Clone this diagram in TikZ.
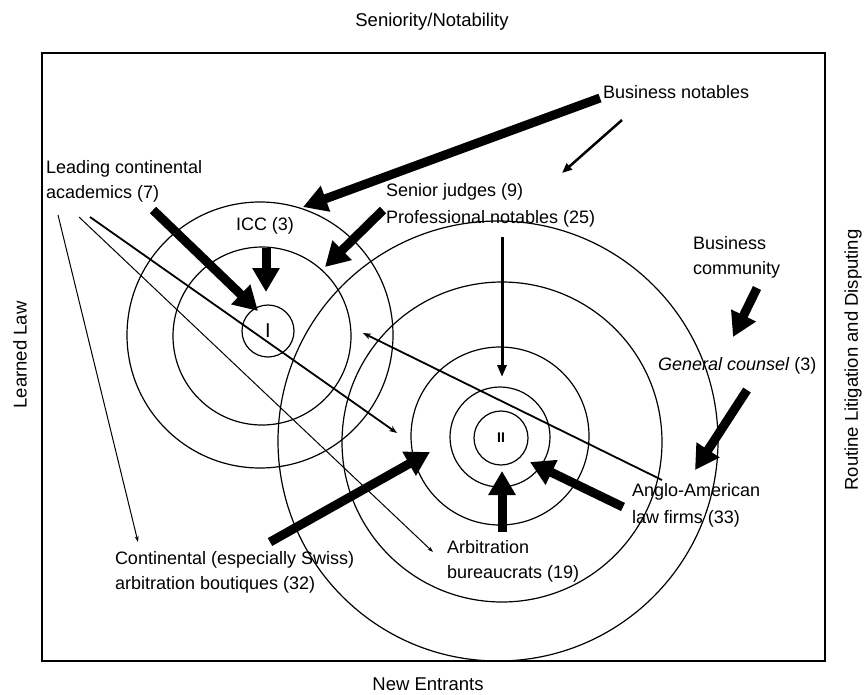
\documentclass[tikz,border=0pt]{standalone}
\usepackage{fontspec}
\setmainfont{Liberation Sans}
\usetikzlibrary{arrows.meta}
\begin{document}
\begin{tikzpicture}[x=1pt,y=-1pt,
  lbl/.style={font=\fontsize{18}{25}\selectfont, inner sep=0pt, outer sep=0pt, align=left},
  lblwide/.style={lbl, font=\fontsize{18}{27}\selectfont},
  axis/.style={font=\fontsize{18.5}{21}\selectfont, inner sep=0pt},
  ring/.style={draw, circle, line width=1.2pt, inner sep=0pt, outer sep=0pt},
  frame/.style={draw, line width=1.6pt},
  bigarrow/.style={line width=9pt, -{Triangle[length=24pt,width=26pt]}},
  midarrow/.style={line width=3pt, -{Triangle[length=12pt,width=9pt]}},
  thinarrow/.style={line width=2.5pt, -{Triangle[length=10pt,width=8pt]}},
  feeder/.style={line width=1pt, -{Stealth[length=6pt,width=4pt]}},
  feederthick/.style={line width=1.8pt, -{Stealth[length=8pt,width=6pt]}},
]
\fill[white] (0,0) rectangle (865,694);
\useasboundingbox (0,0) rectangle (865,694);

% frame
\draw[frame] (42,53) rectangle (825,661);

% axis titles
\node[axis] (top) at (432,22) {Seniority/Notability};
\node[axis] (bottom) at (428,684) {New Entrants};
\node[axis, rotate=90] (left) at (20,355) {Learned Law};
\node[axis, rotate=90] (right) at (853,360) {Routine Litigation and Disputing};

% rings of group I
\node[ring, minimum size=52pt, font=\fontsize{20}{20}\selectfont] (c1a) at (268,331) {I};
\node[ring, minimum size=178pt] (c1b) at (262,336) {};
\node[ring, minimum size=266pt] (c1c) at (260,335) {};

% rings of group II
\node[ring, minimum size=54pt, font=\bfseries\fontsize{14}{14}\selectfont] (c2a) at (501,438) {II};
\node[ring, minimum size=100pt] (c2b) at (500,437) {};
\node[ring, minimum size=178pt] (c2c) at (500,436) {};
\node[ring, minimum size=320pt] (c2d) at (502,442) {};
\node[ring, minimum size=440pt] (c2e) at (498,441) {};

% labels
\node[lbl, anchor=west] (bn) at (603,92) {Business notables};
\node[lbl, anchor=north west] (lca) at (46,160.5) {Leading continental\\academics (7)};
\node[lbl, anchor=center] (icc) at (265,226) {ICC (3)};
\node[lblwide, anchor=north west] (sj) at (386,183.5) {Senior judges (9)\\Professional notables (25)};
\node[lbl, anchor=north west] (bc) at (693,236.5) {Business\\community};
\node[lbl, anchor=west] (gc) at (658,366) {\textit{General counsel} (3)};
\node[lblwide, anchor=north west] (aa) at (632,483.5) {Anglo-American\\law firms (33)};
\node[lbl, anchor=north west] (ab) at (447,540.5) {Arbitration\\bureaucrats (19)};
\node[lbl, anchor=north west] (cb) at (115,551.5) {Continental (especially Swiss)\\arbitration boutiques (32)};

% connector end points
\coordinate (bnT) at (600,98);    \coordinate (bnH) at (303,207);
\coordinate (bn2T) at (622,120);  \coordinate (bn2H) at (562,173);
\coordinate (lcaT) at (153,210);  \coordinate (lcaH) at (258,311);
\coordinate (iccT) at (266,248);  \coordinate (iccH) at (266,292);
\coordinate (sjT) at (383,210);   \coordinate (sjH) at (325,267);
\coordinate (pnT) at (502,237);   \coordinate (pnH) at (502,377);
\coordinate (bcT) at (757,288);   \coordinate (bcH) at (733,337);
\coordinate (gcT) at (747,390);   \coordinate (gcH) at (695,470);
\coordinate (aaT) at (623,507);   \coordinate (aaH) at (530,462);
\coordinate (abT) at (502,532);   \coordinate (abH) at (502,471);
\coordinate (cbT) at (270,542);   \coordinate (cbH) at (430,452);
\coordinate (f1T) at (58,215);    \coordinate (f1H) at (138,542);
\coordinate (f2T) at (79,217);    \coordinate (f2H) at (433,552);
\coordinate (f3T) at (90,217);    \coordinate (f3H) at (397,433);
\coordinate (f4T) at (662,480);   \coordinate (f4H) at (363,333);

% thin feeder lines
\draw[feeder] (f1T) -- (f1H);
\draw[feeder] (f2T) -- (f2H);
\draw[feederthick] (f3T) -- (f3H);
\draw[feederthick] (f4T) -- (f4H);

% arrows
\draw[bigarrow] (bnT) -- (bnH);
\draw[thinarrow] (bn2T) -- (bn2H);
\draw[bigarrow] (lcaT) -- (lcaH);
\draw[bigarrow] (iccT) -- (iccH);
\draw[bigarrow] (sjT) -- (sjH);
\draw[midarrow] (pnT) -- (pnH);
\draw[bigarrow] (bcT) -- (bcH);
\draw[bigarrow] (gcT) -- (gcH);
\draw[bigarrow] (aaT) -- (aaH);
\draw[bigarrow] (abT) -- (abH);
\draw[bigarrow] (cbT) -- (cbH);
\end{tikzpicture}
\end{document}
